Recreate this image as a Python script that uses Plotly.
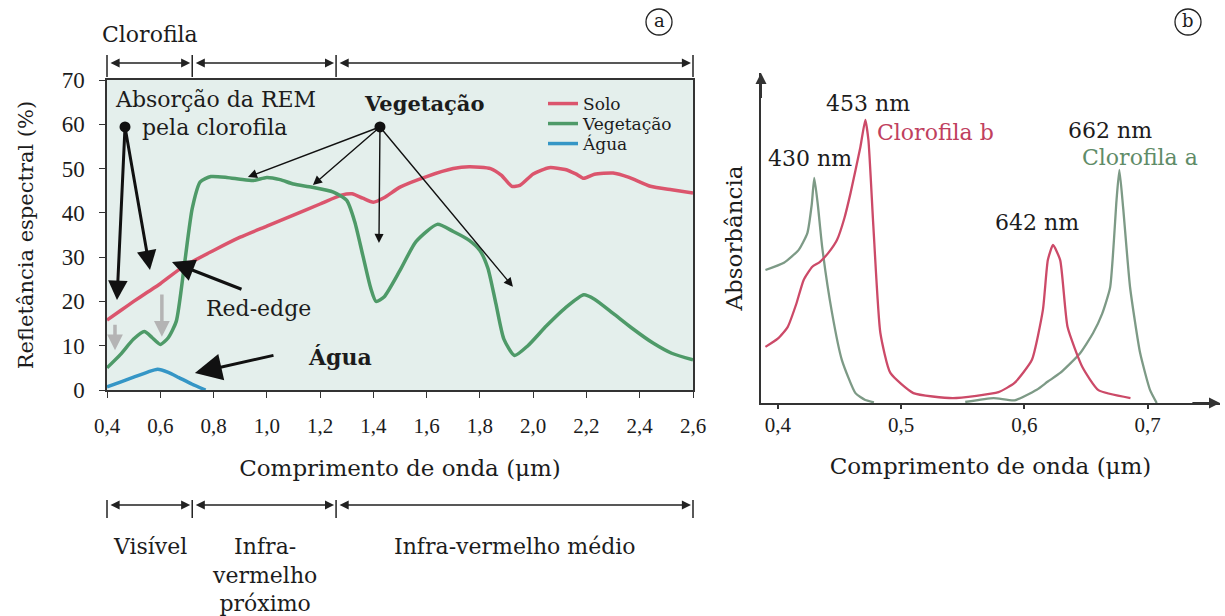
import plotly.graph_objects as go

# ---------------- (a) spectral reflectance ----------------
solo_wl = [0.40, 0.45, 0.50, 0.55, 0.60, 0.685, 0.80, 0.90, 1.00, 1.10, 1.20, 1.28, 1.32, 1.36,
           1.40, 1.44, 1.50, 1.60, 1.70, 1.76, 1.84, 1.88, 1.92, 1.95, 2.00, 2.06, 2.12, 2.16,
           2.19, 2.23, 2.30, 2.36, 2.44, 2.52, 2.60]
solo_ref = [15.8, 17.9, 20.0, 22.0, 24.0, 27.8, 31.5, 34.5, 37.0, 39.5, 42.0, 44.0, 44.3, 43.3,
            42.4, 43.4, 45.8, 48.2, 50.0, 50.4, 50.0, 48.5, 46.0, 46.2, 48.8, 50.2, 49.8, 48.8,
            47.8, 48.7, 49.0, 48.0, 46.0, 45.2, 44.5]

veg_wl = [0.40, 0.45, 0.50, 0.54, 0.57, 0.60, 0.63, 0.66, 0.69, 0.72, 0.75, 0.79, 0.85, 0.90,
          0.95, 1.00, 1.05, 1.10, 1.17, 1.25, 1.30, 1.33, 1.36, 1.39, 1.41, 1.44, 1.50, 1.56,
          1.64, 1.70, 1.76, 1.80, 1.83, 1.86, 1.89, 1.93, 1.98, 2.05, 2.12, 2.19, 2.23, 2.30,
          2.37, 2.45, 2.52, 2.60]
veg_ref = [5.0, 8.0, 11.5, 13.2, 11.8, 10.3, 11.8, 15.5, 28.0, 41.0, 47.0, 48.2, 48.0, 47.6,
           47.3, 48.0, 47.5, 46.5, 45.8, 44.7, 42.8, 38.0, 30.5, 23.0, 20.0, 21.0, 27.0, 33.5,
           37.4, 35.8, 33.8, 31.5, 27.5, 19.5, 11.5, 7.8, 10.0, 14.5, 18.5, 21.5, 20.5, 17.3,
           14.0, 10.6, 8.3, 6.8]

agua_wl = [0.40, 0.45, 0.50, 0.55, 0.59, 0.63, 0.67, 0.72, 0.77]
agua_ref = [0.7, 1.8, 2.9, 4.0, 4.7, 4.0, 2.8, 1.3, 0.0]

x_ticks_a = [0.4, 0.6, 0.8, 1.0, 1.2, 1.4, 1.6, 1.8, 2.0, 2.2, 2.4, 2.6]
x_labels_a = ["0,4", "0,6", "0,8", "1,0", "1,2", "1,4", "1,6", "1,8", "2,0", "2,2", "2,4", "2,6"]
y_ticks_a = [0, 10, 20, 30, 40, 50, 60, 70]

# spectral regions (µm) marked by the bracket bars
region_edges = [0.4, 0.72, 1.26, 2.6]

# ---------------- (b) chlorophyll absorbance ----------------
chl_a_wl = [0.390, 0.405, 0.417, 0.424, 0.4275, 0.4296, 0.4325, 0.436, 0.444, 0.452, 0.463,
            0.471, 0.478, None,
            0.552, 0.575, 0.592, 0.610, 0.619, 0.629, 0.645, 0.6557, 0.663, 0.6695, 0.6747,
            0.677, 0.680, 0.6857, 0.6938, 0.7019, 0.7073]
chl_a_abs = [40.3, 42.5, 46.4, 51.5, 60.0, 68.2, 60.0, 47.3, 27.3, 13.0, 3.0,
             0.9, 0.2, None,
             0.3, 1.5, 0.8, 4.0, 6.5, 9.1, 15.0, 21.2, 27.0, 35.0, 61.5,
             70.6, 59.4, 35.0, 15.2, 3.9, 0.0]

chl_b_wl = [0.390, 0.400, 0.408, 0.415, 0.421, 0.428, 0.434, 0.441, 0.448, 0.454, 0.459,
            0.467, 0.471, 0.4735, 0.4775, 0.4832, 0.4913, 0.510, 0.542, 0.579, 0.592, 0.606,
            0.615, 0.619, 0.6232, 0.629, 0.635, 0.647, 0.660, 0.686]
chl_b_abs = [17.0, 19.5, 23.0, 30.0, 37.3, 41.3, 42.7, 45.5, 49.4, 56.0, 63.6,
             77.6, 85.8, 79.7, 53.6, 21.2, 9.1, 3.0, 1.5, 3.3, 6.1, 13.0,
             28.2, 43.3, 47.9, 43.3, 23.0, 10.9, 3.9, 1.5]

x_ticks_b = [0.4, 0.5, 0.6, 0.7]
x_labels_b = ["0,4", "0,5", "0,6", "0,7"]

SERIF = "DejaVu Serif"
TICKFONT = "Liberation Serif"
INK = "#1c1c1c"

W, H = 1225, 616

# pixel frame of panel (a)
XA_RANGE = [0.4, 2.6]
YA_RANGE = [0, 70]
XL0, XL1, YB, YT = 107, 693, 390, 80


def px_x(p):
    return p / W


def px_y(p):
    return 1 - p / H


def xa_px(v):
    return XL0 + (v - XA_RANGE[0]) / (XA_RANGE[1] - XA_RANGE[0]) * (XL1 - XL0)


fig = go.Figure()

# curves of panel (a), each with its own legend row
series_a = [
    (solo_wl, solo_ref, "Solo", "#db556d", "legend", 104),
    (veg_wl, veg_ref, "Vegetação", "#4e9a68", "legend2", 124),
    (agua_wl, agua_ref, "Água", "#3596c6", "legend3", 144),
]
legend_layout = {}
for xs, ys, name, color, leg, row_y in series_a:
    fig.add_trace(go.Scatter(x=xs, y=ys, name=name, mode="lines", legend=leg,
                             line=dict(color=color, width=3.5, shape="spline", smoothing=0.6),
                             xaxis="x", yaxis="y"))
    legend_layout[leg] = dict(x=px_x(543), y=px_y(row_y), xanchor="left", yanchor="middle",
                              bgcolor="rgba(0,0,0,0)", borderwidth=0, itemwidth=30,
                              font=dict(family=SERIF, size=17, color=INK))

# anchor dots of the callouts
fig.add_trace(go.Scatter(x=[0.4676, 1.4248], y=[59.4, 59.4], mode="markers",
                         marker=dict(color="#111111", size=11), showlegend=False,
                         hoverinfo="skip", xaxis="x", yaxis="y"))

# curves of panel (b)
fig.add_trace(go.Scatter(x=chl_a_wl, y=chl_a_abs, name="Clorofila a", mode="lines",
                         line=dict(color="#7d9a86", width=2.3, shape="spline", smoothing=0.5),
                         connectgaps=False, showlegend=False, xaxis="x2", yaxis="y2"))
fig.add_trace(go.Scatter(x=chl_b_wl, y=chl_b_abs, name="Clorofila b", mode="lines",
                         line=dict(color="#cc4a68", width=2.3, shape="spline", smoothing=0.5),
                         showlegend=False, xaxis="x2", yaxis="y2"))

annotations = []
shapes = []


def text(x, y, s, size=22, color=INK, xref="x", yref="y", xanchor="center",
         yanchor="middle", bold=False, family=SERIF):
    if bold:
        s = "<b>" + s + "</b>"
    annotations.append(dict(x=x, y=y, xref=xref, yref=yref, text=s, showarrow=False,
                            xanchor=xanchor, yanchor=yanchor,
                            font=dict(family=family, size=size, color=color)))


def arrow(x0, y0, x1, y1, width=2.0, head=2, size=1.0, color="#111111",
          xref="x", yref="y"):
    annotations.append(dict(x=x1, y=y1, ax=x0, ay=y0, xref=xref, yref=yref,
                            axref=xref, ayref=yref, text="", showarrow=True,
                            arrowhead=head, arrowsize=size, arrowwidth=width,
                            arrowcolor=color))


# callout texts in panel (a)
text(0.809, 65.5, "Absorção da REM")
text(0.805, 59.2, "pela clorofila")
text(1.59, 64.8, "Vegetação", size=21, bold=True)
text(0.967, 18.5, "Red-edge")
text(1.275, 7.45, "Água", size=22, bold=True)

# callout arrows
arrow(0.4676, 59.4, 0.4375, 20.3, width=3, head=2, size=1.3)
arrow(0.4676, 59.4, 0.5614, 27.1, width=3, head=2, size=1.3)
for tx, ty in [(0.929, 48.1), (1.173, 46.3), (1.421, 33.2), (1.924, 23.3)]:
    arrow(1.4248, 59.4, tx, ty, width=1.4, head=2, size=1.3)
arrow(0.9105, 22.6, 0.644, 28.9, width=3.2, head=2, size=1.4)
arrow(1.0306, 7.9, 0.730, 3.84, width=3.0, head=2, size=1.8)
arrow(0.430, 15.1, 0.430, 9.0, width=3.5, head=2, size=0.9, color="#b4b4b4")
arrow(0.606, 21.9, 0.606, 12.0, width=3.5, head=2, size=0.9, color="#b4b4b4")

# region brackets above and below panel (a)
for y_line, y_top, y_bot in [(63, 55, 77), (505, 500, 518)]:
    for a, b in zip(region_edges[:-1], region_edges[1:]):
        pa, pb = xa_px(a) + 2, xa_px(b) - 2
        annotations.append(dict(x=px_x(pb), y=px_y(y_line), xref="paper", yref="paper",
                                ax=pa - pb, ay=0, axref="pixel", ayref="pixel", text="",
                                showarrow=True, arrowhead=2, startarrowhead=2,
                                arrowsize=1.3, startarrowsize=1.3, arrowwidth=1.4,
                                arrowcolor="#222222", arrowside="end+start"))
    for e in region_edges:
        pe = xa_px(e)
        shapes.append(dict(type="line", xref="paper", yref="paper",
                           x0=px_x(pe), x1=px_x(pe), y0=px_y(y_top), y1=px_y(y_bot),
                           line=dict(color="#222222", width=1.5)))

text(px_x(xa_px(0.56)), px_y(34), "Clorofila", xref="paper", yref="paper")
mids = [(a + b) / 2 for a, b in zip(region_edges[:-1], region_edges[1:])]
text(px_x(xa_px(mids[0])), px_y(546), "Visível", xref="paper", yref="paper")
text(px_x(xa_px(mids[1])), px_y(532), "Infra-<br>vermelho<br>próximo", xref="paper",
     yref="paper", yanchor="top")
text(px_x(xa_px(mids[2])), px_y(546), "Infra-vermelho médio", xref="paper", yref="paper")

# panel (b) labels
text(0.4732, 90.9, "453 nm", xref="x2", yref="y2")
text(0.4787, 82.1, "Clorofila b", color="#c0405e", xref="x2", yref="y2", xanchor="left")
text(0.4261, 74.2, "430 nm", xref="x2", yref="y2")
text(0.6694, 82.7, "662 nm", xref="x2", yref="y2")
text(0.6939, 74.5, "Clorofila a", color="#5f8c68", xref="x2", yref="y2")
text(0.6102, 54.8, "642 nm", xref="x2", yref="y2")

# arrow tips of the panel (b) axes
arrow(0.735, 0, 0.7586, 0, width=2, head=2, size=1.1, color="#333333", xref="x2", yref="y2")
arrow(0.3864, 92, 0.3864, 100, width=2, head=2, size=1.1, color="#333333",
      xref="x2", yref="y2")

# panel letters in circles
for cx, letter in [(659, "a"), (1188, "b")]:
    shapes.append(dict(type="circle", xref="paper", yref="paper",
                       x0=px_x(cx - 13), x1=px_x(cx + 13), y0=px_y(35), y1=px_y(9),
                       line=dict(color="#222222", width=1.3)))
    text(px_x(cx), px_y(21), letter, size=18, xref="paper", yref="paper")

# tinted background of panel (a)
shapes.append(dict(type="rect", xref="x domain", yref="y domain", x0=0, x1=1, y0=0, y1=1,
                   fillcolor="#e4efec", line=dict(width=0), layer="below"))

xtick_font = dict(family=TICKFONT, size=21, color=INK)
ytick_font = dict(family=TICKFONT, size=23, color=INK)
xtitle_font = dict(family=SERIF, size=23, color=INK)
ytitle_font = dict(family=SERIF, size=21, color=INK)

fig.update_layout(
    template="none",
    width=W, height=H,
    margin=dict(l=0, r=0, t=0, b=0, autoexpand=False),
    font=dict(family=SERIF, color=INK),
    paper_bgcolor="white",
    plot_bgcolor="rgba(0,0,0,0)",
    showlegend=True,
    xaxis=dict(domain=[px_x(XL0), px_x(XL1)], range=XA_RANGE, anchor="y", automargin=False,
               tickvals=x_ticks_a, ticktext=x_labels_a, ticks="outside", ticklen=6,
               tickcolor="#333333", showline=True, mirror=True, linecolor="#333333",
               linewidth=1.5, showgrid=False, zeroline=False, tickfont=xtick_font,
               ticklabelstandoff=10,
               title=dict(text="Comprimento de onda (μm)", font=xtitle_font, standoff=23)),
    yaxis=dict(domain=[px_y(YB), px_y(YT)], range=YA_RANGE, anchor="x", automargin=False,
               tickvals=y_ticks_a, ticks="outside", ticklen=6, tickcolor="#333333",
               showline=True, mirror=True, linecolor="#333333", linewidth=1.5,
               showgrid=False, zeroline=False, tickfont=ytick_font, ticklabelstandoff=10,
               title=dict(text="Refletância espectral (%)", font=ytitle_font, standoff=22)),
    xaxis2=dict(domain=[px_x(761), px_x(1220)], range=[0.3864, 0.7586], anchor="y2",
                automargin=False, tickvals=x_ticks_b, ticktext=x_labels_b, ticks="outside",
                ticklen=4, tickwidth=1.5, tickcolor="#333333", showline=True,
                linecolor="#333333", linewidth=2, showgrid=False, zeroline=False,
                tickfont=xtick_font, ticklabelstandoff=-2,
                title=dict(text="Comprimento de onda (μm)", font=xtitle_font, standoff=22)),
    yaxis2=dict(domain=[px_y(403), px_y(73)], range=[0, 100], anchor="x2", automargin=False,
                showline=True, linecolor="#333333", linewidth=2, showgrid=False,
                zeroline=False, showticklabels=False, ticks="",
                title=dict(text="Absorbância", font=dict(family=SERIF, size=23, color=INK),
                           standoff=10)),
    annotations=annotations,
    shapes=shapes,
    **legend_layout,
)

fig.write_html("out.html")
